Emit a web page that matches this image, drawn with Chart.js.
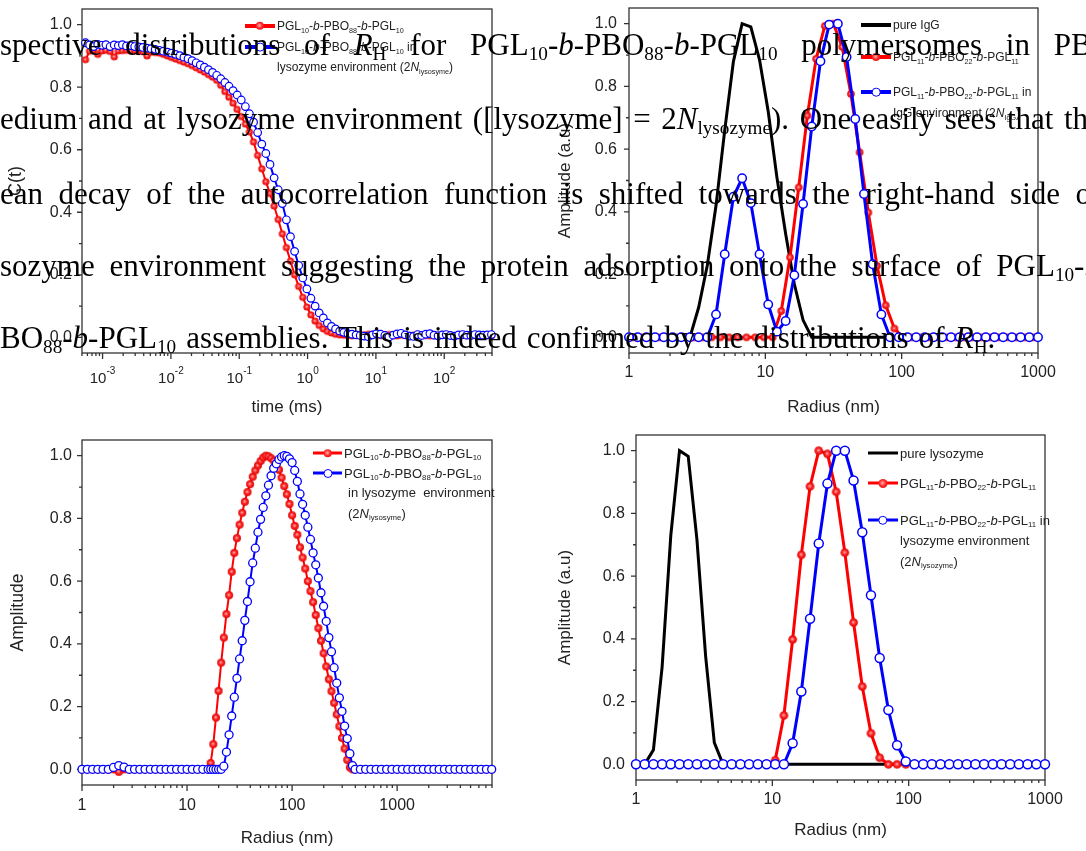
<!DOCTYPE html>
<html>
<head>
<meta charset="utf-8">
<script src="https://cdn.jsdelivr.net/npm/chart.js@4.4.1/dist/chart.umd.min.js"></script>
<style>
  html, body { margin: 0; padding: 0; background: #fff; }
  #page { position: relative; width: 1086px; height: 851px; overflow: hidden; }
  canvas { position: absolute; }
  .row { position: absolute; display: flex; align-items: center; transform: translateY(-50%);
    font-family: "Liberation Sans", Arial, sans-serif; color: #222; white-space: nowrap; }
  .sym { position: relative; height: 0; margin-right: 2px; }
  .sym .ln { position: absolute; left: 0; right: 0; }
  .sym .mk { position: absolute; left: 50%; top: 0; border-radius: 50%; transform: translate(-50%, -50%); box-sizing: border-box; }
  .row sub { font-size: 0.6em; line-height: 0; vertical-align: -0.35em; }
  .para { position: absolute; left: 0; font-family: "Liberation Serif", "Times New Roman", serif;
    font-size: 31px; white-space: nowrap; color: #000; }
  .para sub { font-size: 0.62em; line-height: 0; vertical-align: -0.28em; }
</style>
</head>
<body>
<div id="page">
  <canvas id="corrChart" width="543" height="425" style="left:0;top:0"></canvas>
  <canvas id="iggChart" width="543" height="425" style="left:543px;top:0"></canvas>
  <canvas id="sizeChart" width="543" height="426" style="left:0;top:425px"></canvas>
  <canvas id="lysChart" width="543" height="426" style="left:543px;top:425px"></canvas>
</div>
<script>
// ---- panel a : autocorrelation C(t) vs time (ms)
const lagTimes = [
	0.000562, 0.000646, 0.000741, 0.000851, 0.000977, 0.00112, 0.00129, 0.00148, 0.0017, 0.00195,
	0.00224, 0.00257, 0.00295, 0.00339, 0.00389, 0.00447, 0.00513, 0.00589, 0.00676, 0.00776,
	0.00891, 0.0102, 0.0117, 0.0135, 0.0155, 0.0178, 0.0204, 0.0234, 0.0269, 0.0309,
	0.0355, 0.0407, 0.0468, 0.0537, 0.0617, 0.0708, 0.0813, 0.0933, 0.107, 0.123,
	0.141, 0.162, 0.186, 0.214, 0.245, 0.282, 0.324, 0.372, 0.427, 0.49,
	0.562, 0.646, 0.741, 0.851, 0.977, 1.12, 1.29, 1.48, 1.7, 1.95,
	2.24, 2.57, 2.95, 3.39, 3.89, 4.47, 5.13, 5.89, 6.76, 7.76,
	8.91, 10.2, 11.7, 13.5, 15.5, 17.8, 20.4, 23.4, 26.9, 30.9,
	35.5, 40.7, 46.8, 53.7, 61.7, 70.8, 81.3, 93.3, 107, 123,
	141, 162, 186, 214, 245, 282, 324, 372, 427, 490
]
const corrPure = [
	0.888, 0.915, 0.918, 0.905, 0.916, 0.918, 0.914, 0.897, 0.916, 0.917,
	0.918, 0.916, 0.917, 0.915, 0.914, 0.900, 0.912, 0.911, 0.909, 0.905,
	0.900, 0.895, 0.890, 0.885, 0.880, 0.875, 0.869, 0.862, 0.855, 0.848,
	0.840, 0.832, 0.822, 0.806, 0.786, 0.768, 0.749, 0.729, 0.706, 0.682,
	0.657, 0.625, 0.582, 0.539, 0.498, 0.460, 0.420, 0.377, 0.331, 0.287,
	0.244, 0.200, 0.163, 0.128, 0.097, 0.072, 0.052, 0.038, 0.027, 0.019,
	0.014, 0.010, 0.008, 0.007, 0.006, 0.005, 0.007, 0.006, 0.008, 0.010,
	0.009, 0.007, 0.006, 0.008, 0.009, 0.006, 0.005, 0.007, 0.008, 0.006,
	0.007, 0.009, 0.008, 0.006, 0.005, 0.006, 0.007, 0.008, 0.007, 0.006,
	0.005, 0.006, 0.007, 0.006, 0.005, 0.006, 0.007, 0.006, 0.006, 0.005
]
const corrLysozyme = [
	0.942, 0.935, 0.930, 0.937, 0.934, 0.936, 0.930, 0.935, 0.933, 0.936,
	0.932, 0.933, 0.930, 0.929, 0.927, 0.925, 0.923, 0.921, 0.918, 0.915,
	0.912, 0.909, 0.905, 0.901, 0.896, 0.891, 0.885, 0.878, 0.871, 0.864,
	0.856, 0.847, 0.838, 0.827, 0.815, 0.803, 0.789, 0.775, 0.759, 0.738,
	0.715, 0.688, 0.655, 0.618, 0.588, 0.553, 0.510, 0.472, 0.428, 0.376,
	0.322, 0.275, 0.230, 0.190, 0.155, 0.125, 0.100, 0.078, 0.062, 0.046,
	0.035, 0.027, 0.020, 0.016, 0.012, 0.010, 0.008, 0.006, 0.004, 0.002,
	0.008, 0.012, 0.010, 0.006, 0.001, 0.007, 0.011, 0.013, 0.008, 0.004,
	0.003, 0.009, 0.006, 0.010, 0.012, 0.007, 0.005, 0.008, 0.009, 0.006,
	0.004, 0.008, 0.009, 0.007, 0.006, 0.009, 0.008, 0.007, 0.008, 0.009
]
const timeExponents = [-3, -2, -1, 0, 1, 2]

// ---- panels b and d : size grid of the DLS analysis (nm)
const radiusGrid = [
	1, 1.158, 1.342, 1.554, 1.8, 2.085, 2.415, 2.798, 3.241, 3.754,
	4.348, 5.036, 5.834, 6.757, 7.827, 9.067, 10.5, 12.16, 14.09, 16.32,
	18.91, 21.9, 25.37, 29.39, 34.04, 39.43, 45.67, 52.9, 61.28, 70.99,
	82.23, 95.25, 110.3, 127.8, 148, 171.4, 198.6, 230, 266.4, 308.6,
	357.5, 414.1, 479.7, 555.6, 643.6, 745.5, 863.6, 1000
]
const radiusGridShifted = [
	1.076, 1.247, 1.444, 1.673, 1.938, 2.244, 2.599, 3.011, 3.488, 4.04,
	4.68, 5.42, 6.28, 7.272, 8.424, 9.759, 11.3, 13.09, 15.17, 17.57,
	20.35, 23.57, 27.31, 31.62, 36.63, 42.44, 49.16, 56.94, 65.94, 76.38,
	88.47, 102.5, 118.7, 137.5, 159.3, 184.5, 213.7, 247.5, 286.7, 332.1,
	384.7, 445.6, 516.2, 597.8, 692.5, 802.2, 929.2
]
const iggPure = [
	0, 0, 0, 0, 0, 0, 0, 0, 0.095, 0.23,
	0.42, 0.66, 0.88, 1.0, 0.99, 0.885, 0.72, 0.51, 0.33, 0.17,
	0.055, 0, 0, 0, 0, 0, 0, 0, 0, 0,
	0, 0, 0, 0, 0, 0, 0, 0, 0, 0,
	0, 0, 0, 0, 0, 0, 0, 0
]
const pgl11Buffer = [
	0, 0, 0, 0, 0, 0, 0, 0, 0, 0,
	0, 0, 0, 0, 0, 0, 0, 0.084, 0.255, 0.478,
	0.707, 0.888, 0.993, 1.0, 0.926, 0.776, 0.59, 0.398, 0.228, 0.102,
	0.028, 0, 0, 0, 0, 0, 0, 0, 0, 0,
	0, 0, 0, 0, 0, 0, 0
]
const pgl11IgG = [
	0, 0, 0, 0, 0, 0, 0, 0, 0, 0,
	0.073, 0.265, 0.448, 0.507, 0.428, 0.265, 0.105, 0.018, 0.052, 0.198,
	0.425, 0.672, 0.88, 0.997, 1.0, 0.894, 0.696, 0.457, 0.233, 0.073,
	0, 0, 0, 0, 0, 0, 0, 0, 0, 0,
	0, 0, 0, 0, 0, 0, 0, 0
]
const lysozymePure = [
	0, 0, 0.046, 0.31, 0.73, 1.0, 0.982, 0.717, 0.345, 0.069,
	0, 0, 0, 0, 0, 0, 0, 0, 0, 0,
	0, 0, 0, 0, 0, 0, 0, 0, 0, 0,
	0, 0, 0, 0, 0, 0, 0, 0, 0, 0,
	0, 0, 0, 0, 0, 0, 0, 0
]
const pgl11Water = [
	0, 0, 0, 0, 0, 0, 0, 0, 0, 0,
	0, 0, 0, 0, 0, 0, 0.013, 0.156, 0.398, 0.668,
	0.886, 1.0, 0.99, 0.869, 0.675, 0.452, 0.248, 0.099, 0.021, 0,
	0, 0, 0, 0, 0, 0, 0, 0, 0, 0,
	0, 0, 0, 0, 0, 0, 0, 0
]
const pgl11Lysozyme = [
	0, 0, 0, 0, 0, 0, 0, 0, 0, 0,
	0, 0, 0, 0, 0, 0, 0, 0, 0.067, 0.232,
	0.464, 0.704, 0.895, 1.0, 1.0, 0.905, 0.74, 0.539, 0.339, 0.173,
	0.061, 0.009, 0, 0, 0, 0, 0, 0, 0, 0,
	0, 0, 0, 0, 0, 0, 0, 0
]

// ---- panel c : PGL10-b-PBO88-b-PGL10 size distribution
const radiusFine = [
	1, 1.122, 1.259, 1.413, 1.585, 1.778, 1.995, 2.239, 2.512, 2.818,
	3.162, 3.548, 3.981, 4.467, 5.012, 5.623, 6.31, 7.079, 7.943, 8.913,
	10, 11.22, 12.59, 14.13,
	15.85, 16.79, 17.78, 18.84, 19.95, 21.13, 22.39, 23.71, 25.12, 26.61,
	28.18, 29.85, 31.62, 33.5, 35.48, 37.58, 39.81, 42.17, 44.67, 47.32,
	50.12, 53.09, 56.23, 59.57, 63.1, 66.83, 70.79, 74.99, 79.43, 84.14,
	89.13, 94.41, 100, 105.9, 112.2, 118.9, 125.9, 133.4, 141.3, 149.6,
	158.5, 167.9, 177.8, 188.4, 199.5, 211.3, 223.9, 237.1, 251.2, 266.1,
	281.8, 298.5, 316.2, 335, 354.8, 375.8,
	398.1, 446.7, 501.2, 562.3, 631, 707.9, 794.3, 891.3, 1000, 1122,
	1259, 1413, 1585, 1778, 1995, 2239, 2512, 2818, 3162, 3548,
	3981, 4467, 5012, 5623, 6310, 7079, 7943
]
const pgl10Buffer = [
	0, 0, 0, 0, 0, 0, 0, -0.008, 0, 0,
	0, 0, 0, 0, 0, 0, 0, 0, 0, 0,
	0, 0, 0, 0,
	0, 0.02, 0.08, 0.165, 0.25, 0.34, 0.42, 0.495, 0.555, 0.63,
	0.69, 0.737, 0.78, 0.818, 0.853, 0.884, 0.909, 0.933, 0.953, 0.969,
	0.983, 0.994, 1.0, 0.998, 0.992, 0.984, 0.974, 0.955, 0.93, 0.903,
	0.877, 0.846, 0.81, 0.776, 0.748, 0.708, 0.675, 0.64, 0.6, 0.568,
	0.533, 0.492, 0.45, 0.41, 0.37, 0.328, 0.287, 0.249, 0.212, 0.175,
	0.137, 0.1, 0.066, 0.03, 0.006, 0,
	0, 0, 0, 0, 0, 0, 0, 0, 0, 0,
	0, 0, 0, 0, 0, 0, 0, 0, 0, 0,
	0, 0, 0, 0, 0, 0, 0
]
const pgl10Lysozyme = [
	0, 0, 0, 0, 0, 0, 0.006, 0.012, 0.007, 0,
	0, 0, 0, 0, 0, 0, 0, 0, 0, 0,
	0, 0, 0, 0,
	0, 0, 0, 0, 0, 0, 0.01, 0.055, 0.11, 0.17,
	0.23, 0.29, 0.352, 0.41, 0.475, 0.535, 0.598, 0.658, 0.705, 0.756,
	0.797, 0.835, 0.872, 0.906, 0.936, 0.96, 0.974, 0.988, 0.996, 1.0,
	0.998, 0.99, 0.978, 0.953, 0.918, 0.878, 0.845, 0.81, 0.772, 0.733,
	0.69, 0.652, 0.61, 0.563, 0.52, 0.472, 0.42, 0.375, 0.324, 0.275,
	0.228, 0.185, 0.138, 0.098, 0.05, 0.012,
	0, 0, 0, 0, 0, 0, 0, 0, 0, 0,
	0, 0, 0, 0, 0, 0, 0, 0, 0, 0,
	0, 0, 0, 0, 0, 0, 0
]
const yTickValues = [0, 0.2, 0.4, 0.6, 0.8, 1.0]
const radiusTickValues = [1, 10, 100, 1000]

const RED = "#ff0000"
const BLUE = "#0000ff"
const FONT = '"Liberation Sans", Arial, sans-serif'
Chart.defaults.font.family = FONT
Chart.defaults.color = "#222"

const pts = (xs, ys) => xs.map((x, i) => ({ x: x, y: ys[i] }))

function ball(r) {
	const c = document.createElement("canvas")
	const s = Math.ceil(r * 2 + 2)
	c.width = s
	c.height = s
	const g = c.getContext("2d")
	const grad = g.createRadialGradient(s / 2 - r * 0.1, s / 2 - r * 0.1, r * 0.05, s / 2, s / 2, r)
	grad.addColorStop(0, "#ffb0b0")
	grad.addColorStop(0.45, "#ff2a2a")
	grad.addColorStop(1, "#e00000")
	g.fillStyle = grad
	g.beginPath()
	g.arc(s / 2, s / 2, r, 0, Math.PI * 2)
	g.fill()
	return c
}

// frame and tick marks, Origin style
const axisFrame = {
	id: "axisFrame",
	beforeDatasetsDraw(chart) {
		const { ctx, chartArea: a, scales: { x, y } } = chart
		ctx.save()
		ctx.strokeStyle = "#333"
		ctx.lineWidth = 1.3
		ctx.strokeRect(a.left, a.top, a.right - a.left, a.bottom - a.top)
		ctx.beginPath()
		for (let i = 0; i <= 10; i++) {
			const py = y.getPixelForValue(i / 10)
			ctx.moveTo(a.left, py)
			ctx.lineTo(a.left - (i % 2 ? 3 : 5), py)
		}
		const lo = Math.floor(Math.log10(x.min)), hi = Math.ceil(Math.log10(x.max))
		for (let d = lo; d <= hi; d++) {
			for (let m = 1; m <= 9; m++) {
				const v = m * Math.pow(10, d)
				if (v < x.min * 0.999 || v > x.max * 1.001) continue
				const px = x.getPixelForValue(v)
				ctx.moveTo(px, a.bottom)
				ctx.lineTo(px, a.bottom + (m === 1 ? 6 : 3))
			}
		}
		ctx.stroke()
		ctx.restore()
	}
}

// 10^n labels for the time axis
const powerLabels = {
	id: "powerLabels",
	afterDraw(chart) {
		const { ctx, chartArea: a, scales: { x } } = chart
		ctx.save()
		ctx.fillStyle = "#222"
		ctx.textBaseline = "alphabetic"
		timeExponents.forEach(e => {
			const px = x.getPixelForValue(Math.pow(10, e))
			const sup = String(e)
			ctx.font = "15px " + FONT
			const w1 = ctx.measureText("10").width
			ctx.font = "10px " + FONT
			const w2 = ctx.measureText(sup).width
			const x0 = px - (w1 + w2) / 2
			ctx.font = "15px " + FONT
			ctx.fillText("10", x0, a.bottom + 30)
			ctx.font = "10px " + FONT
			ctx.fillText(sup, x0 + w1, a.bottom + 21)
		})
		ctx.restore()
	}
}

function yAxis(width, pad, text, titlePad, titleSize) {
	return {
		min: -0.05,
		max: 1.05,
		grid: { display: false, drawTicks: false },
		border: { display: false },
		ticks: { padding: pad, font: { size: 16 }, callback: v => v.toFixed(1) },
		afterBuildTicks: s => { s.ticks = yTickValues.map(v => ({ value: v })) },
		afterFit: s => { s.width = width; s.paddingTop = 0; s.paddingBottom = 0 },
		title: { display: true, text: text, font: { size: titleSize }, padding: { top: titlePad, bottom: 0 } }
	}
}

function xAxis(min, max, height, pad, text, titlePad, tickValues) {
	return {
		type: "logarithmic",
		min: min,
		max: max,
		grid: { display: false, drawTicks: false },
		border: { display: false },
		ticks: { display: !!tickValues, padding: pad, font: { size: 16 }, maxRotation: 0, autoSkip: false, callback: v => String(v) },
		afterBuildTicks: s => { s.ticks = (tickValues || []).map(v => ({ value: v })) },
		afterFit: s => { s.height = height; s.paddingLeft = 0; s.paddingRight = 0 },
		title: { display: true, text: text, font: { size: 17 }, padding: { top: 0, bottom: titlePad } }
	}
}

function options(padding, x, y) {
	return {
		responsive: false,
		animation: false,
		devicePixelRatio: 1,
		layout: { padding: padding },
		plugins: { legend: { display: false }, tooltip: { enabled: false } },
		scales: { x: x, y: y }
	}
}

function redSeries(xs, ys, r, lw) {
	return { data: pts(xs, ys), borderColor: RED, borderWidth: lw, pointStyle: ball(r), pointRadius: r, order: 1, clip: false, tension: 0 }
}
function blueSeries(xs, ys, r, lw, bw) {
	return { data: pts(xs, ys), borderColor: BLUE, borderWidth: lw, pointStyle: "circle", pointRadius: r,
		pointBackgroundColor: "#fff", pointBorderColor: BLUE, pointBorderWidth: bw, order: 0, clip: false, tension: 0 }
}
function blackSeries(xs, ys, lw) {
	return { data: pts(xs, ys), borderColor: "#000", borderWidth: lw, pointRadius: 0, order: 2, clip: false, tension: 0 }
}

const corrChart = new Chart(document.getElementById("corrChart"), {
	type: "line",
	data: { datasets: [
		redSeries(lagTimes, corrPure, 3.6, 2),
		blueSeries(lagTimes, corrLysozyme, 3.8, 2, 1.2)
	] },
	options: options({ left: 0, top: 9, right: 51, bottom: 0 },
		xAxis(0.0005, 500, 72, 10, "time (ms)", 7.8, null),
		yAxis(82, 10, "C(t)", 5, 18)),
	plugins: [axisFrame, powerLabels]
})

const iggChart = new Chart(document.getElementById("iggChart"), {
	type: "line",
	data: { datasets: [
		blackSeries(radiusGrid, iggPure, 3),
		redSeries(radiusGridShifted, pgl11Buffer, 3.8, 3),
		blueSeries(radiusGrid, pgl11IgG, 4.2, 3, 1.5)
	] },
	options: options({ left: 0, top: 8, right: 48, bottom: 0 },
		xAxis(1, 1000, 72, 10.4, "Radius (nm)", 7.8, radiusTickValues),
		yAxis(86, 12, "Amplitude (a.u)", 11.8, 17)),
	plugins: [axisFrame]
})

const sizeChart = new Chart(document.getElementById("sizeChart"), {
	type: "line",
	data: { datasets: [
		redSeries(radiusFine, pgl10Buffer, 4, 2),
		blueSeries(radiusFine, pgl10Lysozyme, 4, 2, 1.3)
	] },
	options: options({ left: 0, top: 15, right: 51, bottom: 0 },
		xAxis(1, 8000, 66, 11.4, "Radius (nm)", 2.8, radiusTickValues),
		yAxis(82, 10, "Amplitude", 7.8, 17.5)),
	plugins: [axisFrame]
})

const lysChart = new Chart(document.getElementById("lysChart"), {
	type: "line",
	data: { datasets: [
		blackSeries(radiusGrid, lysozymePure, 3),
		redSeries(radiusGrid, pgl11Water, 4.3, 3),
		blueSeries(radiusGrid, pgl11Lysozyme, 4.5, 3, 1.5)
	] },
	options: options({ left: 0, top: 10, right: 41, bottom: 0 },
		xAxis(1, 1000, 71, 10.4, "Radius (nm)", 10.8, radiusTickValues),
		yAxis(93, 11, "Amplitude (a.u)", 11.8, 17)),
	plugins: [axisFrame]
})

// legends (rich text with subscripts)
const page = document.getElementById("page")
const P10 = "PGL<sub>10</sub>-<i>b</i>-PBO<sub>88</sub>-<i>b</i>-PGL<sub>10</sub>"
const P11 = "PGL<sub>11</sub>-<i>b</i>-PBO<sub>22</sub>-<i>b</i>-PGL<sub>11</sub>"
const legendRows = [
	{ x: 245, y: 26, w: 30, size: 12, color: RED, mk: "ball", r: 4.2, html: P10 },
	{ x: 245, y: 47, w: 30, size: 12, color: BLUE, mk: "open", r: 4.4, html: P10 + " in" },
	{ x: 277, y: 67, size: 12, html: "lysozyme environment (2<i>N</i><sub>lysosyme</sub>)" },
	{ x: 861, y: 25, w: 30, size: 12, color: "#000", html: "pure IgG" },
	{ x: 861, y: 57, w: 30, size: 12, color: RED, mk: "ball", r: 4, html: P11 },
	{ x: 861, y: 92, w: 30, size: 12, color: BLUE, mk: "open", r: 4.3, html: P11 + " in" },
	{ x: 893, y: 113, size: 12, html: "IgG environment (2<i>N</i><sub>IgG</sub>)" },
	{ x: 313, y: 453, w: 29, size: 13, color: RED, mk: "ball", r: 4.3, html: P10 },
	{ x: 313, y: 473, w: 29, size: 13, color: BLUE, mk: "open", r: 4.5, html: P10 },
	{ x: 348, y: 492, size: 13, html: "in lysozyme&nbsp; environment" },
	{ x: 348, y: 513, size: 13, html: "(2<i>N</i><sub>lysosyme</sub>)" },
	{ x: 868, y: 453, w: 30, size: 13, color: "#000", html: "pure lysozyme" },
	{ x: 868, y: 483, w: 30, size: 13, color: RED, mk: "ball", r: 4.5, html: P11 },
	{ x: 868, y: 520, w: 30, size: 13, color: BLUE, mk: "open", r: 4.7, html: P11 + " in" },
	{ x: 900, y: 540, size: 13, html: "lysozyme environment" },
	{ x: 900, y: 561, size: 13, html: "(2<i>N</i><sub>lysozyme</sub>)" }
]
legendRows.forEach(r => {
	const row = document.createElement("div")
	row.className = "row"
	row.style.left = r.x + "px"
	row.style.top = r.y + "px"
	row.style.fontSize = r.size + "px"
	if (r.color) {
		const sym = document.createElement("div")
		sym.className = "sym"
		sym.style.width = r.w + "px"
		const ln = document.createElement("div")
		ln.className = "ln"
		ln.style.top = "-1.75px"
		ln.style.height = "3.5px"
		ln.style.background = r.color
		sym.appendChild(ln)
		if (r.mk) {
			const mk = document.createElement("div")
			mk.className = "mk"
			mk.style.width = mk.style.height = (r.r * 2) + "px"
			if (r.mk === "ball") mk.style.background = "radial-gradient(circle at 45% 45%, #ffb0b0 0%, #ff2a2a 45%, #e00000 100%)"
			else { mk.style.background = "#fff"; mk.style.border = "1.5px solid " + BLUE }
			sym.appendChild(mk)
		}
		row.appendChild(sym)
	}
	const t = document.createElement("span")
	t.innerHTML = r.html
	row.appendChild(t)
	page.appendChild(row)
})

// paragraph text lying over the figure
const paraLines = [
	{ top: 27.4, ws: 16, html: "spective distributions of <i>R</i><sub>H</sub> for PGL<sub>10</sub>-<i>b</i>-PBO<sub>88</sub>-<i>b</i>-PGL<sub>10</sub> polymersomes in PBS" },
	{ top: 101.4, ws: 2.8, html: "edium and at lysozyme environment ([lysozyme] = 2<i>N</i><sub>lysozyme</sub>). One easily sees that the" },
	{ top: 176.4, ws: 7.7, html: "ean decay of the autocorrelation function is shifted towards the right-hand side of" },
	{ top: 248.4, ws: 7, html: "sozyme environment suggesting the protein adsorption onto the surface of PGL<sub>10</sub>-<i>b</i>-" },
	{ top: 320.4, ws: 2.4, html: "BO<sub>88</sub>-<i>b</i>-PGL<sub>10</sub> assemblies. This is indeed confirmed by the distributions of <i>R</i><sub>H</sub>." }
]
paraLines.forEach(l => {
	const d = document.createElement("div")
	d.className = "para"
	d.style.top = l.top + "px"
	d.style.wordSpacing = l.ws + "px"
	d.innerHTML = l.html
	page.appendChild(d)
})
</script>
</body>
</html>
